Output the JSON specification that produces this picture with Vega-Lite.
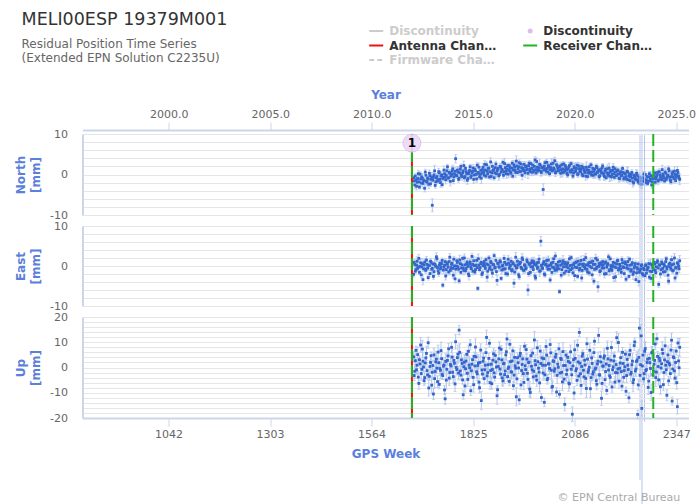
{
"$schema":"https://vega.github.io/schema/vega-lite/v6.json",
"padding":{"left":14.5,"top":10,"right":10,"bottom":5},
"title":{"text":"MELI00ESP 19379M001","subtitle":["Residual Position Time Series","(Extended EPN Solution C2235U)"],"anchor":"start","frame":"bounds","fontSize":17.5,"fontWeight":"normal","color":"#333333","subtitleFontSize":12,"subtitleColor":"#666666","subtitlePadding":10.5,"subtitleLineHeight":14,"offset":-38.7,"dx":7},
"datasets":{
"ts":[
{"w":1672,"n":-0.8,"e":-2.1,"u":4.2,"s":0.7,"su":2.1},
{"w":1675,"n":-2.6,"e":0.4,"u":-1.5,"s":0.9,"su":2.8},
{"w":1678,"n":-1.3,"e":-0.9,"u":6.8,"s":0.6,"su":1.7},
{"w":1681,"n":-1.9,"e":1.2,"u":0.9,"s":1.1,"su":3.2},
{"w":1684,"n":0.2,"e":-0.3,"u":-3.8,"s":0.8,"su":2.4},
{"w":1687,"n":-3.1,"e":-1.6,"u":3.1,"s":0.5,"su":1.5},
{"w":1690,"n":-1.1,"e":0.8,"u":8.9,"s":1.0,"su":2.9},
{"w":1693,"n":-0.6,"e":-0.2,"u":-0.7,"s":0.7,"su":2.2},
{"w":1696,"n":-2.2,"e":-3.4,"u":2.5,"s":1.3,"su":3.6},
{"w":1699,"n":-1.4,"e":0.3,"u":-5.2,"s":0.6,"su":1.9},
{"w":1702,"n":0.6,"e":-0.8,"u":1.8,"s":0.7,"su":2.1},
{"w":1705,"n":-1.7,"e":1.5,"u":5.6,"s":0.9,"su":2.8},
{"w":1708,"n":-0.9,"e":-0.5,"u":-2.9,"s":0.6,"su":1.7},
{"w":1711,"n":-2.4,"e":0.1,"u":-8.1,"s":1.1,"su":3.2},
{"w":1714,"n":-0.3,"e":-1.9,"u":0.4,"s":0.8,"su":2.4},
{"w":1717,"n":-1.2,"e":0.9,"u":4.7,"s":0.5,"su":1.5},
{"w":1720,"n":-7.6,"e":-0.6,"u":-1.9,"s":1.6,"su":2.9},
{"w":1723,"n":-0.7,"e":-2.6,"u":-10.5,"s":0.7,"su":2.2},
{"w":1726,"n":0.9,"e":0.5,"u":-4.4,"s":1.3,"su":3.6},
{"w":1729,"n":-1.8,"e":-0.1,"u":2.2,"s":0.6,"su":1.9},
{"w":1732,"n":-0.5,"e":1.8,"u":-0.3,"s":0.7,"su":2.1},
{"w":1735,"n":-1.3,"e":-1.2,"u":6.1,"s":0.9,"su":2.8},
{"w":1738,"n":0.4,"e":0.2,"u":-6.7,"s":0.6,"su":1.7},
{"w":1741,"n":-2.0,"e":-0.7,"u":-1.1,"s":1.1,"su":3.2},
{"w":1744,"n":-0.1,"e":0.6,"u":3.5,"s":0.8,"su":2.4},
{"w":1747,"n":-1.0,"e":-4.8,"u":-3.2,"s":0.5,"su":1.5},
{"w":1750,"n":1.1,"e":-0.3,"u":1.0,"s":1.0,"su":2.9},
{"w":1753,"n":-0.6,"e":1.1,"u":-12.4,"s":0.7,"su":2.2},
{"w":1756,"n":-0.2,"e":-0.9,"u":-5.0,"s":1.3,"su":3.6},
{"w":1759,"n":1.9,"e":0.4,"u":2.8,"s":0.6,"su":1.9},
{"w":1762,"n":-0.8,"e":-1.5,"u":7.4,"s":0.7,"su":2.1},
{"w":1765,"n":0.3,"e":2.2,"u":-2.0,"s":0.9,"su":2.8},
{"w":1768,"n":-0.4,"e":-0.4,"u":0.6,"s":0.6,"su":1.7},
{"w":1771,"n":0.8,"e":0.7,"u":4.1,"s":1.1,"su":3.2},
{"w":1774,"n":-1.5,"e":-2.3,"u":-3.6,"s":0.8,"su":2.4},
{"w":1777,"n":0.1,"e":0.0,"u":1.7,"s":0.5,"su":1.5},
{"w":1780,"n":3.9,"e":-0.8,"u":10.2,"s":1.0,"su":2.9},
{"w":1783,"n":-0.3,"e":1.3,"u":-0.8,"s":0.7,"su":2.2},
{"w":1786,"n":0.6,"e":-0.2,"u":5.3,"s":1.3,"su":3.6},
{"w":1789,"n":-0.9,"e":-3.7,"u":14.8,"s":0.6,"su":1.9},
{"w":1792,"n":1.3,"e":0.6,"u":-1.4,"s":0.7,"su":2.1},
{"w":1795,"n":-0.2,"e":-0.5,"u":3.0,"s":0.9,"su":2.8},
{"w":1798,"n":0.4,"e":1.9,"u":-4.9,"s":0.6,"su":1.7},
{"w":1801,"n":2.2,"e":-1.1,"u":0.3,"s":1.1,"su":3.2},
{"w":1804,"n":-0.5,"e":0.3,"u":-7.3,"s":0.8,"su":2.4},
{"w":1807,"n":0.7,"e":-0.6,"u":2.6,"s":0.5,"su":1.5},
{"w":1810,"n":-1.4,"e":1.0,"u":-2.3,"s":1.0,"su":2.9},
{"w":1813,"n":0.2,"e":-2.0,"u":6.4,"s":0.7,"su":2.2},
{"w":1816,"n":1.0,"e":0.5,"u":-0.1,"s":1.3,"su":3.6},
{"w":1819,"n":-0.7,"e":-0.2,"u":-9.2,"s":0.6,"su":1.9},
{"w":1822,"n":0.5,"e":2.4,"u":1.3,"s":0.7,"su":2.1},
{"w":1825,"n":1.6,"e":-1.3,"u":-3.9,"s":0.9,"su":2.8},
{"w":1828,"n":-0.1,"e":0.1,"u":4.4,"s":0.6,"su":1.7},
{"w":1831,"n":0.9,"e":-0.9,"u":8.1,"s":1.1,"su":3.2},
{"w":1834,"n":-1.1,"e":1.4,"u":-1.7,"s":0.8,"su":2.4},
{"w":1837,"n":0.3,"e":-5.6,"u":0.8,"s":0.5,"su":1.5},
{"w":1840,"n":1.8,"e":0.2,"u":-5.8,"s":1.0,"su":2.9},
{"w":1843,"n":0.0,"e":-0.4,"u":2.0,"s":0.7,"su":2.2},
{"w":1846,"n":-0.9,"e":0.9,"u":-13.1,"s":1.3,"su":3.6},
{"w":1849,"n":1.2,"e":-1.7,"u":-2.6,"s":0.6,"su":1.9},
{"w":1852,"n":0.5,"e":0.6,"u":3.7,"s":0.7,"su":2.1},
{"w":1855,"n":2.5,"e":-0.1,"u":-0.9,"s":0.9,"su":2.8},
{"w":1858,"n":-0.4,"e":1.6,"u":5.9,"s":0.6,"su":1.7},
{"w":1861,"n":0.8,"e":-2.8,"u":-3.3,"s":1.1,"su":3.2},
{"w":1864,"n":1.5,"e":0.3,"u":1.1,"s":0.8,"su":2.4},
{"w":1867,"n":-0.6,"e":-0.7,"u":9.6,"s":0.5,"su":1.5},
{"w":1870,"n":3.1,"e":1.1,"u":-1.2,"s":1.0,"su":2.9},
{"w":1873,"n":0.4,"e":-1.0,"u":-6.4,"s":0.7,"su":2.2},
{"w":1876,"n":1.0,"e":0.4,"u":2.9,"s":1.3,"su":3.6},
{"w":1879,"n":-0.8,"e":2.6,"u":-2.1,"s":0.6,"su":1.9},
{"w":1882,"n":1.7,"e":-0.3,"u":4.8,"s":0.7,"su":2.1},
{"w":1885,"n":0.2,"e":-1.4,"u":0.2,"s":0.9,"su":2.8},
{"w":1888,"n":1.3,"e":0.7,"u":-8.8,"s":0.6,"su":1.7},
{"w":1891,"n":-0.3,"e":-0.2,"u":3.4,"s":1.1,"su":3.2},
{"w":1894,"n":2.0,"e":1.3,"u":-0.6,"s":0.8,"su":2.4},
{"w":1897,"n":0.6,"e":-3.1,"u":7.2,"s":0.5,"su":1.5},
{"w":1900,"n":1.1,"e":0.0,"u":-4.1,"s":1.0,"su":2.9},
{"w":1903,"n":-0.2,"e":-0.8,"u":1.5,"s":0.7,"su":2.2},
{"w":1906,"n":2.7,"e":0.9,"u":-2.8,"s":1.3,"su":3.6},
{"w":1909,"n":0.9,"e":-1.9,"u":5.0,"s":0.6,"su":1.9},
{"w":1912,"n":1.4,"e":0.5,"u":11.3,"s":0.7,"su":2.1},
{"w":1915,"n":0.1,"e":1.7,"u":-0.4,"s":0.9,"su":2.8},
{"w":1918,"n":2.2,"e":-0.6,"u":-5.5,"s":0.6,"su":1.7},
{"w":1921,"n":0.7,"e":0.2,"u":2.3,"s":1.1,"su":3.2},
{"w":1924,"n":1.6,"e":-1.2,"u":-1.8,"s":0.8,"su":2.4},
{"w":1927,"n":-0.4,"e":0.8,"u":6.6,"s":0.5,"su":1.5},
{"w":1930,"n":2.4,"e":-4.3,"u":-3.0,"s":1.0,"su":2.9},
{"w":1933,"n":1.0,"e":0.1,"u":0.7,"s":0.7,"su":2.2},
{"w":1936,"n":3.3,"e":-0.5,"u":-11.6,"s":1.3,"su":3.6},
{"w":1939,"n":0.5,"e":1.2,"u":3.9,"s":0.6,"su":1.9},
{"w":1942,"n":1.9,"e":-2.2,"u":-0.2,"s":0.7,"su":2.1},
{"w":1945,"n":0.8,"e":0.6,"u":4.6,"s":0.9,"su":2.8},
{"w":1948,"n":2.6,"e":-0.3,"u":-6.9,"s":0.6,"su":1.7},
{"w":1951,"n":-0.2,"e":2.0,"u":1.2,"s":1.1,"su":3.2},
{"w":1954,"n":1.5,"e":-1.0,"u":-2.4,"s":0.8,"su":2.4},
{"w":1957,"n":0.9,"e":0.3,"u":8.4,"s":0.5,"su":1.5},
{"w":1960,"n":2.1,"e":-0.7,"u":-0.8,"s":1.0,"su":2.9},
{"w":1963,"n":1.2,"e":1.5,"u":3.3,"s":0.7,"su":2.2},
{"w":1966,"n":0.3,"e":-6.0,"u":-4.7,"s":1.3,"su":3.6},
{"w":1969,"n":2.8,"e":0.4,"u":2.1,"s":0.6,"su":1.9},
{"w":1972,"n":1.4,"e":-1.6,"u":-9.9,"s":0.7,"su":2.1},
{"w":1975,"n":0.6,"e":0.8,"u":0.5,"s":0.9,"su":2.8},
{"w":1978,"n":2.3,"e":-0.2,"u":5.7,"s":0.6,"su":1.7},
{"w":1981,"n":1.0,"e":1.1,"u":-1.5,"s":1.1,"su":3.2},
{"w":1984,"n":3.6,"e":-2.5,"u":2.7,"s":0.8,"su":2.4},
{"w":1987,"n":0.4,"e":0.2,"u":-3.4,"s":0.5,"su":1.5},
{"w":1990,"n":1.8,"e":-0.6,"u":7.8,"s":1.0,"su":2.9},
{"w":1993,"n":1.1,"e":0.9,"u":-0.3,"s":0.7,"su":2.2},
{"w":1996,"n":2.5,"e":-1.3,"u":-6.1,"s":1.3,"su":3.6},
{"w":1999,"n":0.8,"e":6.2,"u":1.6,"s":1.2,"su":1.9},
{"w":2002,"n":1.7,"e":-0.4,"u":3.8,"s":0.7,"su":2.1},
{"w":2005,"n":-3.7,"e":0.5,"u":-2.2,"s":1.4,"su":2.8},
{"w":2008,"n":2.0,"e":-2.0,"u":-13.8,"s":0.6,"su":1.7},
{"w":2011,"n":1.3,"e":0.3,"u":0.9,"s":1.1,"su":3.2},
{"w":2014,"n":3.0,"e":1.4,"u":4.9,"s":0.8,"su":2.4},
{"w":2017,"n":0.6,"e":-0.8,"u":-4.3,"s":0.5,"su":1.5},
{"w":2020,"n":1.9,"e":0.1,"u":1.4,"s":1.0,"su":2.9},
{"w":2023,"n":1.2,"e":-3.5,"u":9.1,"s":0.7,"su":2.2},
{"w":2026,"n":2.6,"e":0.7,"u":-1.1,"s":1.3,"su":3.6},
{"w":2029,"n":0.9,"e":-0.3,"u":-7.5,"s":0.6,"su":1.9},
{"w":2032,"n":1.6,"e":1.8,"u":2.4,"s":0.7,"su":2.1},
{"w":2035,"n":3.4,"e":-1.1,"u":-0.5,"s":0.9,"su":2.8},
{"w":2038,"n":0.7,"e":0.4,"u":5.2,"s":0.6,"su":1.7},
{"w":2041,"n":2.1,"e":-0.5,"u":-3.1,"s":1.1,"su":3.2},
{"w":2044,"n":1.0,"e":1.0,"u":0.1,"s":0.8,"su":2.4},
{"w":2047,"n":1.8,"e":-6.4,"u":-10.6,"s":0.5,"su":1.5},
{"w":2050,"n":0.3,"e":0.2,"u":3.6,"s":1.0,"su":2.9},
{"w":2053,"n":2.4,"e":-0.9,"u":-1.9,"s":0.7,"su":2.2},
{"w":2056,"n":1.4,"e":1.3,"u":6.3,"s":1.3,"su":3.6},
{"w":2059,"n":0.6,"e":-1.8,"u":-4.6,"s":0.6,"su":1.9},
{"w":2062,"n":2.2,"e":0.5,"u":0.8,"s":0.7,"su":2.1},
{"w":2065,"n":1.1,"e":-0.2,"u":-2.7,"s":0.9,"su":2.8},
{"w":2068,"n":-0.1,"e":0.8,"u":4.0,"s":0.6,"su":1.7},
{"w":2071,"n":1.9,"e":-1.4,"u":-6.2,"s":1.1,"su":3.2},
{"w":2074,"n":0.8,"e":0.1,"u":1.9,"s":0.8,"su":2.4},
{"w":2077,"n":2.7,"e":2.1,"u":-0.7,"s":0.5,"su":1.5},
{"w":2080,"n":1.2,"e":-0.6,"u":-18.5,"s":1.0,"su":2.9},
{"w":2083,"n":0.4,"e":0.3,"u":3.1,"s":0.7,"su":2.2},
{"w":2086,"n":1.6,"e":-2.4,"u":7.0,"s":1.3,"su":3.6},
{"w":2089,"n":0.9,"e":0.9,"u":-1.3,"s":0.6,"su":1.9},
{"w":2092,"n":2.3,"e":-0.4,"u":-5.1,"s":0.7,"su":2.1},
{"w":2095,"n":0.2,"e":1.2,"u":2.2,"s":0.9,"su":2.8},
{"w":2098,"n":1.4,"e":-1.0,"u":13.9,"s":0.6,"su":1.7},
{"w":2101,"n":0.7,"e":0.5,"u":-2.5,"s":1.1,"su":3.2},
{"w":2104,"n":2.0,"e":-3.0,"u":0.4,"s":0.8,"su":2.4},
{"w":2107,"n":-0.3,"e":0.0,"u":5.5,"s":0.5,"su":1.5},
{"w":2110,"n":1.1,"e":1.6,"u":-3.7,"s":1.0,"su":2.9},
{"w":2113,"n":0.5,"e":-0.7,"u":1.0,"s":0.7,"su":2.2},
{"w":2116,"n":1.8,"e":0.3,"u":-8.3,"s":1.3,"su":3.6},
{"w":2119,"n":-0.5,"e":-1.5,"u":3.3,"s":0.6,"su":1.9},
{"w":2122,"n":1.0,"e":0.8,"u":-0.9,"s":0.7,"su":2.1},
{"w":2125,"n":0.3,"e":-0.1,"u":6.8,"s":0.9,"su":2.8},
{"w":2128,"n":2.4,"e":1.0,"u":-4.0,"s":0.6,"su":1.7},
{"w":2131,"n":0.6,"e":-2.2,"u":1.6,"s":1.1,"su":3.2},
{"w":2134,"n":-0.2,"e":0.4,"u":-1.7,"s":0.8,"su":2.4},
{"w":2137,"n":1.3,"e":-0.8,"u":10.4,"s":0.5,"su":1.5},
{"w":2140,"n":0.1,"e":1.9,"u":-0.2,"s":1.0,"su":2.9},
{"w":2143,"n":1.7,"e":-0.3,"u":-6.6,"s":0.7,"su":2.2},
{"w":2146,"n":0.8,"e":-5.2,"u":2.5,"s":1.3,"su":3.6},
{"w":2149,"n":-0.6,"e":0.6,"u":-2.9,"s":0.6,"su":1.9},
{"w":2152,"n":1.2,"e":-1.2,"u":4.3,"s":0.7,"su":2.1},
{"w":2155,"n":0.4,"e":0.2,"u":-12.2,"s":0.9,"su":2.8},
{"w":2158,"n":2.1,"e":1.1,"u":0.6,"s":0.6,"su":1.7},
{"w":2161,"n":-0.1,"e":-0.5,"u":3.7,"s":1.1,"su":3.2},
{"w":2164,"n":0.9,"e":0.7,"u":-4.8,"s":0.8,"su":2.4},
{"w":2167,"n":-0.8,"e":-1.9,"u":1.4,"s":0.5,"su":1.5},
{"w":2170,"n":1.4,"e":0.3,"u":7.6,"s":1.0,"su":2.9},
{"w":2173,"n":0.3,"e":2.3,"u":-1.0,"s":0.7,"su":2.2},
{"w":2176,"n":-0.4,"e":-0.9,"u":-3.3,"s":1.3,"su":3.6},
{"w":2179,"n":1.0,"e":0.1,"u":2.9,"s":0.6,"su":1.9},
{"w":2182,"n":0.0,"e":-1.1,"u":-7.7,"s":0.7,"su":2.1},
{"w":2185,"n":1.8,"e":0.9,"u":0.2,"s":0.9,"su":2.8},
{"w":2188,"n":-0.7,"e":-0.2,"u":4.5,"s":0.6,"su":1.7},
{"w":2191,"n":0.6,"e":-2.7,"u":-2.0,"s":1.1,"su":3.2},
{"w":2194,"n":-0.2,"e":0.5,"u":11.8,"s":0.8,"su":2.4},
{"w":2197,"n":1.1,"e":1.4,"u":-0.6,"s":0.5,"su":1.5},
{"w":2200,"n":-0.9,"e":-0.6,"u":-5.4,"s":1.0,"su":2.9},
{"w":2203,"n":0.4,"e":0.0,"u":1.8,"s":0.7,"su":2.2},
{"w":2206,"n":-0.3,"e":-1.6,"u":-1.6,"s":1.3,"su":3.6},
{"w":2209,"n":1.5,"e":0.8,"u":6.0,"s":0.6,"su":1.9},
{"w":2212,"n":-1.1,"e":-0.4,"u":-3.9,"s":0.7,"su":2.1},
{"w":2215,"n":0.2,"e":1.0,"u":0.3,"s":0.9,"su":2.8},
{"w":2218,"n":-0.5,"e":-3.3,"u":-9.4,"s":0.6,"su":1.7},
{"w":2221,"n":0.8,"e":0.2,"u":3.2,"s":1.1,"su":3.2},
{"w":2224,"n":-1.3,"e":-0.7,"u":-0.8,"s":0.8,"su":2.4},
{"w":2227,"n":0.1,"e":1.7,"u":5.1,"s":0.5,"su":1.5},
{"w":2230,"n":-0.6,"e":-1.3,"u":-2.6,"s":1.0,"su":2.9},
{"w":2233,"n":0.5,"e":0.4,"u":1.1,"s":0.7,"su":2.2},
{"w":2236,"n":-1.8,"e":-2.1,"u":-6.0,"s":1.3,"su":3.6},
{"w":2239,"n":-0.2,"e":-0.5,"u":8.7,"s":0.6,"su":1.9},
{"w":2242,"n":-1.0,"e":0.6,"u":-1.4,"s":0.7,"su":2.1},
{"w":2245,"n":0.3,"e":-1.7,"u":2.4,"s":0.9,"su":2.8},
{"w":2248,"n":-1.4,"e":-0.8,"u":-18.6,"s":0.6,"su":1.7},
{"w":2251,"n":-0.7,"e":-3.9,"u":4.0,"s":1.1,"su":3.2},
{"w":2254,"n":-2.3,"e":-1.2,"u":-3.1,"s":0.8,"su":2.4},
{"w":2257,"n":-0.9,"e":0.1,"u":12.5,"s":0.5,"su":4.5},
{"w":2260,"n":-1.6,"e":-1.9,"u":0.6,"s":1.0,"su":2.9},
{"w":2263,"n":0.1,"e":-0.6,"u":-4.5,"s":0.7,"su":2.2},
{"w":2266,"n":-1.2,"e":-2.4,"u":6.4,"s":1.3,"su":3.6},
{"w":2269,"n":-2.0,"e":0.3,"u":-1.2,"s":0.6,"su":1.9},
{"w":2272,"n":-0.5,"e":-1.0,"u":2.0,"s":0.7,"su":2.1},
{"w":2275,"n":-1.7,"e":-0.3,"u":-7.9,"s":0.9,"su":2.8},
{"w":2278,"n":0.2,"e":-2.8,"u":3.6,"s":0.6,"su":1.7},
{"w":2281,"n":-1.1,"e":0.5,"u":-0.4,"s":1.1,"su":3.2},
{"w":2284,"n":-2.6,"e":-1.4,"u":5.8,"s":0.8,"su":2.4},
{"w":2287,"n":-0.8,"e":-0.4,"u":-2.8,"s":0.5,"su":1.5},
{"w":2290,"n":-0.3,"e":0.9,"u":1.3,"s":1.0,"su":2.9},
{"w":2293,"n":-1.9,"e":-1.1,"u":9.3,"s":0.7,"su":2.2},
{"w":2296,"n":-0.6,"e":-0.2,"u":-1.8,"s":1.3,"su":3.6},
{"w":2299,"n":0.5,"e":1.3,"u":4.4,"s":0.6,"su":1.9},
{"w":2302,"n":-1.3,"e":-4.6,"u":-4.9,"s":0.7,"su":2.1},
{"w":2305,"n":-0.1,"e":0.2,"u":2.7,"s":0.9,"su":2.8},
{"w":2308,"n":-0.9,"e":-0.9,"u":-0.2,"s":0.6,"su":1.7},
{"w":2311,"n":1.2,"e":0.6,"u":7.1,"s":1.1,"su":3.2},
{"w":2314,"n":-0.4,"e":-1.5,"u":-6.8,"s":0.8,"su":2.4},
{"w":2317,"n":-1.6,"e":0.0,"u":3.0,"s":0.5,"su":1.5},
{"w":2320,"n":0.3,"e":1.1,"u":0.9,"s":1.0,"su":2.9},
{"w":2323,"n":-0.8,"e":-0.7,"u":-11.0,"s":0.7,"su":2.2},
{"w":2326,"n":-0.2,"e":-2.3,"u":5.0,"s":1.3,"su":3.6},
{"w":2329,"n":0.9,"e":0.4,"u":1.7,"s":0.6,"su":1.9},
{"w":2332,"n":-1.4,"e":-0.3,"u":-2.4,"s":0.7,"su":2.1},
{"w":2335,"n":-0.5,"e":1.6,"u":10.8,"s":0.9,"su":2.8},
{"w":2338,"n":0.6,"e":-1.2,"u":-0.6,"s":0.6,"su":1.7},
{"w":2341,"n":-1.0,"e":0.5,"u":3.9,"s":1.1,"su":3.2},
{"w":2344,"n":0.0,"e":-3.0,"u":-4.2,"s":0.8,"su":2.4},
{"w":2347,"n":-0.7,"e":-0.5,"u":6.5,"s":0.5,"su":1.5},
{"w":2350,"n":1.0,"e":0.8,"u":-15.5,"s":1.0,"su":2.9},
{"w":2353,"n":-0.4,"e":-0.1,"u":2.6,"s":0.7,"su":2.2},
{"w":2356,"n":-1.2,"e":1.3,"u":8.0,"s":1.3,"su":3.6},
{"w":1673.5,"n":-1.6,"e":0.9,"u":-3.2,"s":0.8,"su":2.0},
{"w":1676.5,"n":-0.4,"e":-1.3,"u":2.7,"s":0.6,"su":2.6},
{"w":1679.5,"n":-2.9,"e":0.2,"u":-0.9,"s":0.9,"su":1.8},
{"w":1682.5,"n":-1.0,"e":-0.6,"u":5.1,"s":0.7,"su":3.0},
{"w":1685.5,"n":-1.8,"e":1.9,"u":-6.3,"s":1.0,"su":2.3},
{"w":1688.5,"n":0.1,"e":-0.1,"u":1.4,"s":0.6,"su":1.6},
{"w":1691.5,"n":-2.1,"e":-2.2,"u":-2.4,"s":0.8,"su":2.7},
{"w":1694.5,"n":-0.9,"e":0.6,"u":7.3,"s":1.2,"su":3.4},
{"w":1697.5,"n":-1.5,"e":-0.7,"u":0.2,"s":0.6,"su":2.0},
{"w":1700.5,"n":-3.4,"e":1.0,"u":-4.0,"s":0.9,"su":2.5},
{"w":1703.5,"n":-0.2,"e":-1.1,"u":3.8,"s":0.7,"su":1.8},
{"w":1706.5,"n":-1.9,"e":0.4,"u":-1.2,"s":1.0,"su":3.1},
{"w":1709.5,"n":-1.1,"e":-2.9,"u":9.8,"s":0.6,"su":2.2},
{"w":1712.5,"n":0.3,"e":0.1,"u":-3.5,"s":0.8,"su":1.6},
{"w":1715.5,"n":-2.3,"e":1.2,"u":2.0,"s":0.7,"su":2.9},
{"w":1718.5,"n":-0.6,"e":-0.8,"u":-7.0,"s":1.1,"su":3.5},
{"w":1721.5,"n":-1.4,"e":0.5,"u":0.8,"s":0.6,"su":2.0},
{"w":1724.5,"n":-0.1,"e":-1.4,"u":5.0,"s":0.9,"su":2.6},
{"w":1727.5,"n":-2.7,"e":0.3,"u":-1.6,"s":0.7,"su":1.8},
{"w":1730.5,"n":-0.8,"e":2.3,"u":3.3,"s":1.0,"su":3.0},
{"w":1733.5,"n":-1.6,"e":-0.4,"u":-5.6,"s":0.6,"su":2.3},
{"w":1736.5,"n":0.7,"e":-1.8,"u":1.9,"s":0.8,"su":1.6},
{"w":1739.5,"n":-1.2,"e":0.7,"u":-0.4,"s":0.7,"su":2.7},
{"w":1742.5,"n":-0.4,"e":-0.2,"u":6.7,"s":1.2,"su":3.4},
{"w":1745.5,"n":-2.5,"e":1.4,"u":-2.7,"s":0.6,"su":2.0},
{"w":1748.5,"n":-0.7,"e":-1.0,"u":0.5,"s":0.9,"su":2.5},
{"w":1751.5,"n":0.2,"e":0.2,"u":-8.9,"s":0.7,"su":1.8},
{"w":1754.5,"n":-1.3,"e":-2.5,"u":2.4,"s":1.0,"su":3.1},
{"w":1757.5,"n":0.9,"e":0.8,"u":-0.7,"s":0.6,"su":2.2},
{"w":1760.5,"n":-0.9,"e":-0.3,"u":4.6,"s":0.8,"su":1.6},
{"w":1763.5,"n":0.5,"e":1.1,"u":-4.2,"s":0.7,"su":2.9},
{"w":1766.5,"n":-1.7,"e":-1.1,"u":1.2,"s":1.1,"su":3.5},
{"w":1769.5,"n":0.0,"e":0.4,"u":8.0,"s":0.6,"su":2.0},
{"w":1772.5,"n":1.4,"e":-0.6,"u":-1.9,"s":0.9,"su":2.6},
{"w":1775.5,"n":-0.6,"e":1.7,"u":2.8,"s":0.7,"su":1.8},
{"w":1778.5,"n":0.8,"e":-3.2,"u":-6.5,"s":1.0,"su":3.0},
{"w":1781.5,"n":-0.2,"e":0.0,"u":0.0,"s":0.6,"su":2.3},
{"w":1784.5,"n":1.1,"e":0.9,"u":3.9,"s":0.8,"su":1.6},
{"w":1787.5,"n":-1.2,"e":-0.8,"u":-2.2,"s":0.7,"su":2.7},
{"w":1790.5,"n":0.4,"e":1.5,"u":6.0,"s":1.2,"su":3.4},
{"w":1793.5,"n":2.0,"e":-1.6,"u":-3.0,"s":0.6,"su":2.0},
{"w":1796.5,"n":-0.5,"e":0.3,"u":1.6,"s":0.9,"su":2.5},
{"w":1799.5,"n":0.9,"e":-0.5,"u":-10.8,"s":0.7,"su":1.8},
{"w":1802.5,"n":-0.8,"e":2.0,"u":2.1,"s":1.0,"su":3.1},
{"w":1805.5,"n":1.5,"e":-1.2,"u":-0.5,"s":0.6,"su":2.2},
{"w":1808.5,"n":0.2,"e":0.6,"u":5.2,"s":0.8,"su":1.6},
{"w":1811.5,"n":-1.0,"e":-0.1,"u":-4.7,"s":0.7,"su":2.9},
{"w":1814.5,"n":0.6,"e":-2.4,"u":1.0,"s":1.1,"su":3.5},
{"w":1817.5,"n":1.9,"e":1.0,"u":9.0,"s":0.6,"su":2.0},
{"w":1820.5,"n":-0.3,"e":-0.7,"u":-1.3,"s":0.9,"su":2.6},
{"w":1823.5,"n":0.8,"e":0.4,"u":3.1,"s":0.7,"su":1.8},
{"w":1826.5,"n":-1.2,"e":1.3,"u":-6.8,"s":1.0,"su":3.0},
{"w":1829.5,"n":1.3,"e":-1.5,"u":0.6,"s":0.6,"su":2.3},
{"w":1832.5,"n":0.0,"e":0.2,"u":4.2,"s":0.8,"su":1.6},
{"w":1835.5,"n":2.3,"e":-0.4,"u":-2.5,"s":0.7,"su":2.7},
{"w":1838.5,"n":0.5,"e":1.8,"u":1.8,"s":1.2,"su":3.4},
{"w":1841.5,"n":-0.6,"e":-0.9,"u":-8.0,"s":0.6,"su":2.0},
{"w":1844.5,"n":1.0,"e":0.6,"u":6.9,"s":0.9,"su":2.5},
{"w":1847.5,"n":0.3,"e":-2.1,"u":-1.0,"s":0.7,"su":1.8},
{"w":1850.5,"n":1.8,"e":0.1,"u":2.5,"s":1.0,"su":3.1},
{"w":1853.5,"n":-0.2,"e":1.1,"u":-4.4,"s":0.6,"su":2.2},
{"w":1856.5,"n":1.1,"e":-0.6,"u":0.9,"s":0.8,"su":1.6},
{"w":1859.5,"n":2.4,"e":0.5,"u":11.9,"s":0.7,"su":2.9},
{"w":1862.5,"n":0.2,"e":-1.3,"u":-2.0,"s":1.1,"su":3.5},
{"w":1865.5,"n":1.6,"e":2.0,"u":3.6,"s":0.6,"su":2.0},
{"w":1868.5,"n":0.7,"e":-0.2,"u":-6.0,"s":0.9,"su":2.6},
{"w":1871.5,"n":-0.5,"e":0.8,"u":1.3,"s":0.7,"su":1.8},
{"w":1874.5,"n":2.0,"e":-1.8,"u":-0.8,"s":1.0,"su":3.0},
{"w":1877.5,"n":1.2,"e":0.3,"u":5.4,"s":0.6,"su":2.3},
{"w":1880.5,"n":0.4,"e":-0.5,"u":-3.8,"s":0.8,"su":1.6},
{"w":1883.5,"n":2.6,"e":1.4,"u":2.2,"s":0.7,"su":2.7},
{"w":1886.5,"n":0.9,"e":-3.6,"u":-11.2,"s":1.2,"su":3.4},
{"w":1889.5,"n":1.5,"e":0.6,"u":0.4,"s":0.6,"su":2.0},
{"w":1892.5,"n":0.0,"e":-0.3,"u":7.7,"s":0.9,"su":2.5},
{"w":1895.5,"n":1.9,"e":1.0,"u":-2.6,"s":0.7,"su":1.8},
{"w":1898.5,"n":1.3,"e":-1.0,"u":3.0,"s":1.0,"su":3.1},
{"w":1901.5,"n":3.0,"e":0.2,"u":-5.3,"s":0.6,"su":2.2},
{"w":1904.5,"n":0.6,"e":1.9,"u":1.7,"s":0.8,"su":1.6},
{"w":1907.5,"n":1.7,"e":-0.7,"u":-1.4,"s":0.7,"su":2.9},
{"w":1910.5,"n":0.2,"e":0.4,"u":6.2,"s":1.1,"su":3.5},
{"w":1913.5,"n":2.2,"e":-2.0,"u":-3.6,"s":0.6,"su":2.0},
{"w":1916.5,"n":1.0,"e":0.7,"u":0.2,"s":0.9,"su":2.6},
{"w":1919.5,"n":1.6,"e":-0.1,"u":9.2,"s":0.7,"su":1.8},
{"w":1922.5,"n":0.3,"e":1.2,"u":-1.7,"s":1.0,"su":3.0},
{"w":1925.5,"n":2.8,"e":-0.9,"u":2.6,"s":0.6,"su":2.3},
{"w":1928.5,"n":1.1,"e":0.5,"u":-7.2,"s":0.8,"su":1.6},
{"w":1931.5,"n":1.8,"e":-1.5,"u":4.0,"s":0.7,"su":2.7},
{"w":1934.5,"n":0.5,"e":2.2,"u":-0.3,"s":1.2,"su":3.4},
{"w":1937.5,"n":2.1,"e":-0.4,"u":-4.5,"s":0.6,"su":2.0},
{"w":1940.5,"n":1.4,"e":0.3,"u":1.9,"s":0.9,"su":2.5},
{"w":1943.5,"n":2.9,"e":-2.7,"u":-12.8,"s":0.7,"su":1.8},
{"w":1946.5,"n":0.7,"e":0.9,"u":5.6,"s":1.0,"su":3.1},
{"w":1949.5,"n":1.7,"e":-0.6,"u":-1.2,"s":0.6,"su":2.2},
{"w":1952.5,"n":1.0,"e":1.6,"u":3.4,"s":0.8,"su":1.6},
{"w":1955.5,"n":2.5,"e":-1.1,"u":-5.9,"s":0.7,"su":2.9},
{"w":1958.5,"n":0.4,"e":0.1,"u":0.7,"s":1.1,"su":3.5},
{"w":1961.5,"n":1.9,"e":-0.5,"u":7.1,"s":0.6,"su":2.0},
{"w":1964.5,"n":1.3,"e":1.0,"u":-2.3,"s":0.9,"su":2.6},
{"w":1967.5,"n":2.2,"e":-1.9,"u":2.0,"s":0.7,"su":1.8},
{"w":1970.5,"n":0.8,"e":0.6,"u":-8.6,"s":1.0,"su":3.0},
{"w":1973.5,"n":2.7,"e":-0.2,"u":4.7,"s":0.6,"su":2.3},
{"w":1976.5,"n":1.5,"e":1.3,"u":-0.9,"s":0.8,"su":1.6},
{"w":1979.5,"n":0.6,"e":-0.9,"u":-3.7,"s":0.7,"su":2.7},
{"w":1982.5,"n":2.0,"e":0.4,"u":10.9,"s":1.2,"su":3.4},
{"w":1985.5,"n":1.2,"e":-3.0,"u":1.1,"s":0.6,"su":2.0},
{"w":1988.5,"n":3.2,"e":0.8,"u":-5.0,"s":0.9,"su":2.5},
{"w":1991.5,"n":0.9,"e":-0.3,"u":2.3,"s":0.7,"su":1.8},
{"w":1994.5,"n":1.6,"e":1.7,"u":-1.8,"s":1.0,"su":3.1},
{"w":1997.5,"n":2.3,"e":-1.2,"u":6.5,"s":0.6,"su":2.2},
{"w":2000.5,"n":0.5,"e":0.2,"u":-11.9,"s":0.8,"su":1.6},
{"w":2003.5,"n":1.8,"e":-0.6,"u":0.9,"s":0.7,"su":2.9},
{"w":2006.5,"n":1.1,"e":1.1,"u":3.5,"s":1.1,"su":3.5},
{"w":2009.5,"n":2.9,"e":-2.2,"u":-2.9,"s":0.6,"su":2.0},
{"w":2012.5,"n":0.8,"e":0.5,"u":8.3,"s":0.9,"su":2.6},
{"w":2015.5,"n":1.5,"e":-0.1,"u":-4.8,"s":0.7,"su":1.8},
{"w":2018.5,"n":2.2,"e":1.5,"u":1.5,"s":1.0,"su":3.0},
{"w":2021.5,"n":0.2,"e":-0.8,"u":-0.4,"s":0.6,"su":2.3},
{"w":2024.5,"n":1.7,"e":0.3,"u":5.8,"s":0.8,"su":1.6},
{"w":2027.5,"n":1.0,"e":-1.6,"u":-7.8,"s":0.7,"su":2.7},
{"w":2030.5,"n":2.8,"e":0.9,"u":2.7,"s":1.2,"su":3.4},
{"w":2033.5,"n":1.3,"e":-0.4,"u":-1.5,"s":0.6,"su":2.0},
{"w":2036.5,"n":0.4,"e":2.5,"u":4.1,"s":0.9,"su":2.5},
{"w":2039.5,"n":2.4,"e":-1.0,"u":-9.7,"s":0.7,"su":1.8},
{"w":2042.5,"n":1.6,"e":0.1,"u":1.3,"s":1.0,"su":3.1},
{"w":2045.5,"n":0.9,"e":-0.7,"u":7.4,"s":0.6,"su":2.2},
{"w":2048.5,"n":2.1,"e":1.2,"u":-2.2,"s":0.8,"su":1.6},
{"w":2051.5,"n":1.2,"e":-2.3,"u":3.2,"s":0.7,"su":2.9},
{"w":2054.5,"n":0.5,"e":0.6,"u":-5.7,"s":1.1,"su":3.5},
{"w":2057.5,"n":2.6,"e":-0.2,"u":0.8,"s":0.6,"su":2.0},
{"w":2060.5,"n":1.0,"e":0.9,"u":-14.6,"s":0.9,"su":2.6},
{"w":2063.5,"n":1.7,"e":-1.3,"u":4.9,"s":0.7,"su":1.8},
{"w":2066.5,"n":0.3,"e":0.4,"u":-1.0,"s":1.0,"su":3.0},
{"w":2069.5,"n":1.4,"e":-0.5,"u":2.4,"s":0.6,"su":2.3},
{"w":2072.5,"n":2.2,"e":1.8,"u":-6.5,"s":0.8,"su":1.6},
{"w":2075.5,"n":0.6,"e":-0.9,"u":6.2,"s":0.7,"su":2.7},
{"w":2078.5,"n":1.1,"e":0.2,"u":-2.9,"s":1.2,"su":3.4},
{"w":2081.5,"n":-0.4,"e":-1.7,"u":0.6,"s":0.6,"su":2.0},
{"w":2084.5,"n":1.9,"e":0.7,"u":-10.1,"s":0.9,"su":2.5},
{"w":2087.5,"n":0.7,"e":-0.3,"u":3.6,"s":0.7,"su":1.8},
{"w":2090.5,"n":1.5,"e":1.0,"u":-0.5,"s":1.0,"su":3.1},
{"w":2093.5,"n":0.0,"e":-2.6,"u":8.8,"s":0.6,"su":2.2},
{"w":2096.5,"n":2.1,"e":0.3,"u":-3.4,"s":0.8,"su":1.6},
{"w":2099.5,"n":0.9,"e":-0.6,"u":1.7,"s":0.7,"su":2.9},
{"w":2102.5,"n":1.3,"e":1.4,"u":-7.1,"s":1.1,"su":3.5},
{"w":2105.5,"n":0.1,"e":-1.1,"u":4.5,"s":0.6,"su":2.0},
{"w":2108.5,"n":1.7,"e":0.5,"u":-1.1,"s":0.9,"su":2.6},
{"w":2111.5,"n":0.8,"e":-0.2,"u":2.9,"s":0.7,"su":1.8},
{"w":2114.5,"n":-0.4,"e":2.1,"u":-4.3,"s":1.0,"su":3.0},
{"w":2117.5,"n":1.2,"e":-0.8,"u":9.4,"s":0.6,"su":2.3},
{"w":2120.5,"n":0.4,"e":0.2,"u":-1.9,"s":0.8,"su":1.6},
{"w":2123.5,"n":1.9,"e":-1.7,"u":0.1,"s":0.7,"su":2.7},
{"w":2126.5,"n":0.6,"e":0.9,"u":-8.4,"s":1.2,"su":3.4},
{"w":2129.5,"n":-0.1,"e":-0.4,"u":3.8,"s":0.6,"su":2.0},
{"w":2132.5,"n":1.5,"e":1.2,"u":-2.6,"s":0.9,"su":2.5},
{"w":2135.5,"n":0.9,"e":-3.8,"u":5.9,"s":0.7,"su":1.8},
{"w":2138.5,"n":0.2,"e":0.4,"u":-0.7,"s":1.0,"su":3.1},
{"w":2141.5,"n":2.0,"e":-0.7,"u":-5.2,"s":0.6,"su":2.2},
{"w":2144.5,"n":0.5,"e":1.5,"u":1.4,"s":0.8,"su":1.6},
{"w":2147.5,"n":1.1,"e":-0.1,"u":12.7,"s":0.7,"su":2.9},
{"w":2150.5,"n":-0.3,"e":-1.4,"u":-3.0,"s":1.1,"su":3.5},
{"w":2153.5,"n":0.8,"e":0.8,"u":2.2,"s":0.6,"su":2.0},
{"w":2156.5,"n":1.6,"e":-0.5,"u":-6.3,"s":0.9,"su":2.6},
{"w":2159.5,"n":0.3,"e":0.3,"u":0.5,"s":0.7,"su":1.8},
{"w":2162.5,"n":-0.5,"e":-2.0,"u":4.6,"s":1.0,"su":3.0},
{"w":2165.5,"n":1.3,"e":1.0,"u":-1.6,"s":0.6,"su":2.3},
{"w":2168.5,"n":0.4,"e":-0.3,"u":-9.1,"s":0.8,"su":1.6},
{"w":2171.5,"n":-0.2,"e":0.6,"u":3.4,"s":0.7,"su":2.7},
{"w":2174.5,"n":1.6,"e":-1.2,"u":0.8,"s":1.2,"su":3.4},
{"w":2177.5,"n":0.7,"e":1.8,"u":-3.9,"s":0.6,"su":2.0},
{"w":2180.5,"n":-0.6,"e":-0.6,"u":7.9,"s":0.9,"su":2.5},
{"w":2183.5,"n":1.0,"e":0.1,"u":-0.9,"s":0.7,"su":1.8},
{"w":2186.5,"n":0.2,"e":-2.9,"u":2.6,"s":1.0,"su":3.1},
{"w":2189.5,"n":1.4,"e":0.7,"u":-5.8,"s":0.6,"su":2.2},
{"w":2192.5,"n":-0.3,"e":-0.4,"u":1.2,"s":0.8,"su":1.6},
{"w":2195.5,"n":0.9,"e":1.3,"u":-2.1,"s":0.7,"su":2.9},
{"w":2198.5,"n":0.1,"e":-1.0,"u":9.9,"s":1.1,"su":3.5},
{"w":2201.5,"n":-1.0,"e":0.4,"u":-0.3,"s":0.6,"su":2.0},
{"w":2204.5,"n":0.7,"e":-0.8,"u":3.9,"s":0.9,"su":2.6},
{"w":2207.5,"n":-0.2,"e":1.6,"u":-7.4,"s":0.7,"su":1.8},
{"w":2210.5,"n":0.5,"e":-0.2,"u":1.6,"s":1.0,"su":3.0},
{"w":2213.5,"n":-0.8,"e":-1.9,"u":-1.2,"s":0.6,"su":2.3},
{"w":2216.5,"n":0.3,"e":0.6,"u":5.3,"s":0.8,"su":1.6},
{"w":2219.5,"n":-1.2,"e":-0.5,"u":-3.2,"s":0.7,"su":2.7},
{"w":2222.5,"n":0.6,"e":1.1,"u":0.9,"s":1.2,"su":3.4},
{"w":2225.5,"n":-0.4,"e":-2.6,"u":-12.0,"s":0.6,"su":2.0},
{"w":2228.5,"n":-1.5,"e":0.2,"u":6.8,"s":0.9,"su":2.5},
{"w":2231.5,"n":0.0,"e":-0.9,"u":-1.9,"s":0.7,"su":1.8},
{"w":2234.5,"n":-0.9,"e":0.8,"u":2.5,"s":1.0,"su":3.1},
{"w":2237.5,"n":-2.1,"e":-1.5,"u":-4.8,"s":0.6,"su":2.2},
{"w":2240.5,"n":-0.5,"e":0.0,"u":10.1,"s":0.8,"su":1.6},
{"w":2243.5,"n":-1.3,"e":-3.4,"u":-0.6,"s":0.7,"su":2.9},
{"w":2246.5,"n":-0.2,"e":-0.4,"u":3.0,"s":1.1,"su":3.5},
{"w":2249.5,"n":-1.9,"e":0.5,"u":-6.9,"s":0.6,"su":2.0},
{"w":2252.5,"n":-0.6,"e":-1.6,"u":15.6,"s":0.9,"su":3.8},
{"w":2255.5,"n":-1.5,"e":-0.7,"u":1.1,"s":0.7,"su":1.8},
{"w":2258.5,"n":-2.4,"e":0.3,"u":-16.2,"s":1.0,"su":3.0},
{"w":2261.5,"n":-0.8,"e":-2.2,"u":4.9,"s":0.6,"su":2.3},
{"w":2264.5,"n":-1.7,"e":-0.9,"u":-2.4,"s":0.8,"su":1.6},
{"w":2267.5,"n":0.0,"e":0.1,"u":7.5,"s":0.7,"su":2.7},
{"w":2270.5,"n":-1.3,"e":-1.8,"u":-0.8,"s":1.2,"su":3.4},
{"w":2273.5,"n":-2.2,"e":-0.5,"u":3.3,"s":0.6,"su":2.0},
{"w":2276.5,"n":-0.6,"e":0.6,"u":-5.4,"s":0.9,"su":2.5},
{"w":2279.5,"n":-1.5,"e":-1.3,"u":1.9,"s":0.7,"su":1.8},
{"w":2282.5,"n":-0.3,"e":-3.1,"u":-9.9,"s":1.0,"su":3.1},
{"w":2285.5,"n":-1.8,"e":0.2,"u":6.1,"s":0.6,"su":2.2},
{"w":2288.5,"n":-1.0,"e":-0.9,"u":-1.5,"s":0.8,"su":1.6},
{"w":2291.5,"n":0.4,"e":0.5,"u":2.8,"s":0.7,"su":2.9},
{"w":2294.5,"n":-1.1,"e":-1.7,"u":-4.0,"s":1.1,"su":3.5},
{"w":2297.5,"n":-0.2,"e":0.9,"u":11.4,"s":0.6,"su":2.0},
{"w":2300.5,"n":-1.6,"e":-0.5,"u":0.4,"s":0.9,"su":2.6},
{"w":2303.5,"n":0.7,"e":0.3,"u":3.7,"s":0.7,"su":1.8},
{"w":2306.5,"n":-0.5,"e":-2.0,"u":-7.6,"s":1.0,"su":3.0},
{"w":2309.5,"n":-1.3,"e":1.0,"u":1.5,"s":0.6,"su":2.3},
{"w":2312.5,"n":0.1,"e":-0.6,"u":5.6,"s":0.8,"su":1.6},
{"w":2315.5,"n":-0.9,"e":0.4,"u":-2.0,"s":0.7,"su":2.7},
{"w":2318.5,"n":0.6,"e":-1.4,"u":8.6,"s":1.2,"su":3.4},
{"w":2321.5,"n":-1.2,"e":1.8,"u":-0.9,"s":0.6,"su":2.0},
{"w":2324.5,"n":-0.4,"e":-0.2,"u":2.3,"s":0.9,"su":2.5},
{"w":2327.5,"n":1.4,"e":-3.8,"u":-5.3,"s":0.7,"su":1.8},
{"w":2330.5,"n":-0.7,"e":0.7,"u":1.0,"s":1.0,"su":3.1},
{"w":2333.5,"n":-1.8,"e":-0.8,"u":6.9,"s":0.6,"su":2.2},
{"w":2336.5,"n":0.2,"e":0.3,"u":-13.3,"s":0.8,"su":1.6},
{"w":2339.5,"n":-0.6,"e":-1.1,"u":4.2,"s":0.7,"su":2.9},
{"w":2342.5,"n":0.8,"e":2.0,"u":-1.3,"s":1.1,"su":3.5},
{"w":2345.5,"n":-1.5,"e":-0.4,"u":2.0,"s":0.6,"su":2.0},
{"w":2348.5,"n":-0.1,"e":-1.8,"u":-6.0,"s":0.9,"su":2.6},
{"w":2351.5,"n":0.5,"e":0.6,"u":9.7,"s":0.7,"su":1.8},
{"w":2354.5,"n":-0.9,"e":-0.7,"u":-0.1,"s":1.0,"su":3.0}
],
"big":[{"w":2253.9,"lo":-75.4,"hi":9.7},{"w":2259,"lo":-84,"hi":9.7},{"w":2265.6,"lo":-61,"hi":9.7}],
"ant":[{"w":1667.7,"type":"Antenna Change"}],
"rec":[{"w":1667.7,"type":"Receiver Change"},{"w":2288,"type":"Receiver Change"}],
"disc":[{"w":1667.7,"v":7.75,"label":"1"}],
"yr":[{"yr":2000},{"yr":2025}]
},
"spacing":11,
"bounds":"flush",
"resolve":{"scale":{"x":"independent","y":"independent","color":"shared"}},
"vconcat":[
{
"width":606,"height":81,
"layer":[
{
"encoding":{"x":{"field":"w","type":"quantitative","scale":{"domain":[820.9,2378.6],"nice":false,"zero":false},"axis":null}},
"layer":[
{"data":{"name":"ts"},"mark":{"type":"errorbar","color":"#b3c5ed","ticks":{"size":3}},
"encoding":{"y":{"field":"n","type":"quantitative","scale":{"domain":[-10,10],"nice":false,"zero":false},"axis":null},"yError":{"field":"s"}}},
{"layer":[
{"data":{"name":"ts"},"mark":{"type":"square","size":8,"color":"#3366cc","opacity":1},
"encoding":{"y":{"field":"n","type":"quantitative","scale":{"domain":[-10,10],"nice":false,"zero":false},
"axis":{"title":["North","[mm]"],"values":[-10,-8,-6,-4,-2,0,2,4,6,8,10],"labelExpr":"datum.value % 10 === 0 ? '' + datum.value : ''","ticks":false,"labelPadding":15,"titlePadding":7,"titleLineHeight":15,"labelFlush":false,"labelOverlap":false,"grid":true}}}},
{"data":{"name":"ant"},"mark":{"type":"rule","strokeWidth":2},
"encoding":{"color":{"field":"type","type":"nominal",
"scale":{"domain":["Discontinuity","Discontinuity marker","Antenna Change","Receiver Change","Firmware Change"],"range":["#cccccc","#dcbdf2","#ee1111","#22b422","#cccccc"]},
"legend":{"title":null,"orient":"none","direction":"horizontal","legendX":287.7,"legendY":-109,"columns":2,"columnPadding":22,"rowPadding":2.5,"padding":0,"symbolType":"stroke","symbolSize":196,"symbolStrokeWidth":2,"labelFontSize":12,"labelFontWeight":"bold","labelColor":"#333333","labelLimit":110,"labelOffset":7,
"labelExpr":"datum.label === 'Discontinuity marker' ? 'Discontinuity' : datum.label",
"encode":{"symbols":{"update":{
"shape":{"signal":"datum.value === 'Discontinuity marker' ? 'circle' : 'stroke'"},
"size":{"signal":"datum.value === 'Discontinuity marker' ? 25 : 196"},
"fill":{"signal":"datum.value === 'Discontinuity marker' ? '#dcbdf2' : 'transparent'"},
"strokeWidth":{"signal":"datum.value === 'Discontinuity marker' ? 0 : 2"},
"strokeDash":{"signal":"datum.value === 'Firmware Change' ? [5,3] : [1,0]"}}},
"labels":{"update":{"fill":{"signal":"datum.value === 'Discontinuity' || datum.value === 'Firmware Change' ? '#cccccc' : '#333333'"}}}}}}}},
{"data":{"name":"rec"},"mark":{"type":"rule","strokeWidth":2,"strokeDash":[12,4]},
"encoding":{"color":{"field":"type","type":"nominal","scale":{"domain":["Discontinuity","Discontinuity marker","Antenna Change","Receiver Change","Firmware Change"],"range":["#cccccc","#dcbdf2","#ee1111","#22b422","#cccccc"]}}}}
]},
{"layer":[
{"data":{"name":"big"},"mark":{"type":"rule","color":"#b3c5ed","strokeWidth":1},"encoding":{"y":{"field":"lo","type":"quantitative","scale":{"domain":[-10,10],"nice":false,"zero":false},"axis":null},"y2":{"field":"hi"}}},
{"data":{"name":"disc"},"mark":{"type":"point","filled":true,"size":320,"color":"#ecd9f8","stroke":"#dcbdf2","strokeWidth":1,"opacity":0.9},"encoding":{"y":{"field":"v","type":"quantitative","axis":null}}},
{"data":{"name":"disc"},"mark":{"type":"text","fontWeight":"bold","fontSize":12,"color":"#000000","baseline":"middle"},"encoding":{"y":{"field":"v","type":"quantitative","axis":null},"text":{"field":"label"}}}
]}
],
"resolve":{"scale":{"y":"independent"}}
},
{"data":{"name":"yr"},"mark":{"type":"point","opacity":0},
"encoding":{"x":{"field":"yr","type":"quantitative","scale":{"domain":[1995.746,2025.6],"nice":false,"zero":false},
"axis":{"orient":"top","title":"Year","values":[2000,2005,2010,2015,2020,2025],"format":".1f","offset":4,"tickSize":8,"labelPadding":3,"titlePadding":7,"grid":false,"labelFlush":false}}}}
],
"resolve":{"scale":{"x":"independent"}}
},
{
"width":606,"height":80,
"encoding":{"x":{"field":"w","type":"quantitative","scale":{"domain":[820.9,2378.6],"nice":false,"zero":false},"axis":null}},
"layer":[
{"data":{"name":"ts"},"mark":{"type":"errorbar","color":"#b3c5ed","ticks":{"size":3}},
"encoding":{"y":{"field":"e","type":"quantitative","scale":{"domain":[-10,10],"nice":false,"zero":false},"axis":null},"yError":{"field":"s"}}},
{"layer":[
{"data":{"name":"ts"},"mark":{"type":"square","size":8,"color":"#3366cc","opacity":1},
"encoding":{"y":{"field":"e","type":"quantitative","scale":{"domain":[-10,10],"nice":false,"zero":false},
"axis":{"title":["East","[mm]"],"values":[-10,-8,-6,-4,-2,0,2,4,6,8,10],"labelExpr":"datum.value % 10 === 0 ? '' + datum.value : ''","ticks":false,"labelPadding":15,"titlePadding":7,"titleLineHeight":15,"labelFlush":false,"labelOverlap":false,"grid":true}}}},
{"data":{"name":"ant"},"mark":{"type":"rule","strokeWidth":2,"color":"#ee1111"},"encoding":{}},
{"data":{"name":"rec"},"mark":{"type":"rule","strokeWidth":2,"strokeDash":[12,4],"color":"#22b422"},"encoding":{}}
]}
],
"resolve":{"scale":{"y":"independent"}}
},
{
"width":606,"height":101,
"title":{"text":"© EPN Central Bureau","orient":"bottom","anchor":"end","frame":"bounds","fontSize":11,"fontWeight":"normal","color":"#aaaaaa","offset":33,"dx":-10},
"encoding":{"x":{"field":"w","type":"quantitative","scale":{"domain":[820.9,2378.6],"nice":false,"zero":false},
"axis":{"title":"GPS Week","values":[1042,1303,1564,1825,2086,2347],"format":"d","tickSize":8,"labelPadding":2,"titlePadding":9,"grid":false,"labelFlush":false}}},
"layer":[
{"data":{"name":"ts"},"mark":{"type":"errorbar","color":"#b3c5ed","ticks":{"size":3}},
"encoding":{"y":{"field":"u","type":"quantitative","scale":{"domain":[-20,20],"nice":false,"zero":false},"axis":null},"yError":{"field":"su"}}},
{"layer":[
{"data":{"name":"ts"},"mark":{"type":"square","size":8,"color":"#3366cc","opacity":1},
"encoding":{"y":{"field":"u","type":"quantitative","scale":{"domain":[-20,20],"nice":false,"zero":false},
"axis":{"title":["Up","[mm]"],"values":[-20,-18,-16,-14,-12,-10,-8,-6,-4,-2,0,2,4,6,8,10,12,14,16,18,20],"labelExpr":"datum.value % 10 === 0 ? '' + datum.value : ''","ticks":false,"labelPadding":15,"titlePadding":7,"titleLineHeight":15,"labelFlush":false,"labelOverlap":false,"grid":true}}}},
{"data":{"name":"ant"},"mark":{"type":"rule","strokeWidth":2,"color":"#ee1111"},"encoding":{}},
{"data":{"name":"rec"},"mark":{"type":"rule","strokeWidth":2,"strokeDash":[12,4],"color":"#22b422"},"encoding":{}}
]}
],
"resolve":{"scale":{"y":"independent"}}
}
],
"config":{
"font":"DejaVu Sans",
"view":{"stroke":null},
"axis":{"labelColor":"#666666","labelFontSize":11,"titleColor":"#5b7fdc","titleFontSize":12,"titleFontWeight":"bold","domainColor":"#ccd6eb","domainWidth":2,"tickColor":"#ccd6eb","gridColor":"#e6e6e6","labelOverlap":false}
}
}
